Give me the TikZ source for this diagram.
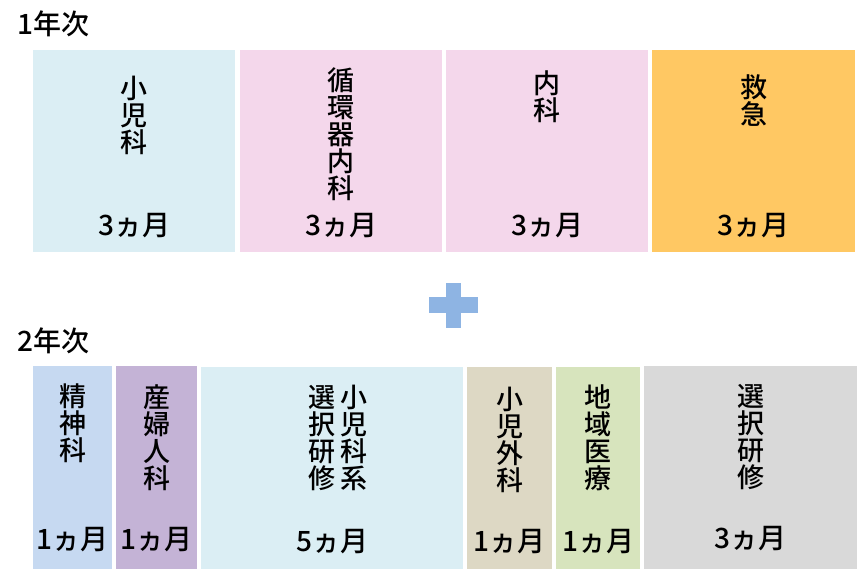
\documentclass[tikz,border=0pt]{standalone}
\usepackage{fontspec}
\setmainfont{Noto Sans CJK JP}[UprightFont={* Medium}]
\usetikzlibrary{positioning}
\definecolor{shonicol}{HTML}{DBEEF4}
\definecolor{pinkcol}{HTML}{F4D7EB}
\definecolor{kyukyucol}{HTML}{FFC863}
\definecolor{seishincol}{HTML}{C6D9F1}
\definecolor{sanfucol}{HTML}{C4B3D6}
\definecolor{gekacol}{HTML}{DDD8C4}
\definecolor{chiikicol}{HTML}{D7E4BD}
\definecolor{sentakucol}{HTML}{D9D9D9}
\definecolor{pluscol}{HTML}{8EB4E3}
\begin{document}
\begin{tikzpicture}%
	[x=1pt, y=-1pt,
	box/.style={rectangle, inner sep=0pt, anchor=north west},
	kamoku/.style={inner sep=0pt, align=center, font=\fontsize{27}{27}\selectfont},
	kikan/.style={inner sep=0pt, font=\fontsize{28}{28}\selectfont},
	nenji/.style={inner sep=0pt, anchor=north west, font=\fontsize{28}{28}\selectfont}]
%
\useasboundingbox (0,0) rectangle (861,574);
%%
%% 1st year
%%
\node[nenji] (nen1) at (17,11) {1年次};
\node[box, fill=shonicol, minimum width=202pt, minimum height=202pt] (s1) at (33,50) {};
\node[box, fill=pinkcol, minimum width=202pt, minimum height=202pt] (s2) at (240,50) {};
\node[box, fill=pinkcol, minimum width=202pt, minimum height=202pt] (s3) at (446,50) {};
\node[box, fill=kyukyucol, minimum width=203pt, minimum height=202pt] (s4) at (652,50) {};
%%
\node[kamoku, below=26pt of s1.north] (k1) {小\\児\\科};
\node[kamoku, below=18pt of s2.north] (k2) {循\\環\\器\\内\\科};
\node[kamoku, below=21pt of s3.north] (k3) {内\\科};
\node[kamoku, below=24pt of s4.north] (k4) {救\\急};
\foreach \i in {1,...,4}
	\node[kikan, above=14pt of s\i.south] (m\i) {3ヵ月};
%%
%% plus
%%
\fill[pluscol] (429,297) rectangle (478,313);
\fill[pluscol] (446,283) rectangle (461,328);
%%
%% 2nd year
%%
\node[nenji] (nen2) at (17,328) {2年次};
\node[box, fill=seishincol, minimum width=79pt, minimum height=203pt] (t1) at (33,366) {};
\node[box, fill=sanfucol, minimum width=81pt, minimum height=203pt] (t2) at (116,366) {};
\node[box, fill=shonicol, minimum width=262pt, minimum height=202pt] (t3) at (201,367) {};
\node[box, fill=gekacol, minimum width=85pt, minimum height=202pt] (t4) at (467,367) {};
\node[box, fill=chiikicol, minimum width=84pt, minimum height=202pt] (t5) at (556,367) {};
\node[box, fill=sentakucol, minimum width=213pt, minimum height=203pt] (t6) at (644,366) {};
%%
\node[kamoku, below=18pt of t1.north] (l1) {精\\神\\科};
\node[kamoku, below=18pt of t2.north] (l2) {産\\婦\\人\\科};
\node[kamoku, below=18pt of t3.north, xshift=22pt] (l3a) {小\\児\\科\\系};
\node[kamoku, left=5pt of l3a] (l3b) {選\\択\\研\\修};
\node[kamoku, below=20pt of t4.north] (l4) {小\\児\\外\\科};
\node[kamoku, below=18pt of t5.north] (l5) {地\\域\\医\\療};
\node[kamoku, below=18pt of t6.north] (l6) {選\\択\\研\\修};
%%
\node[kikan, above=17pt of t1.south] (n1) {1ヵ月};
\node[kikan, above=17pt of t2.south] (n2) {1ヵ月};
\node[kikan, above=15pt of t3.south] (n3) {5ヵ月};
\node[kikan, above=15pt of t4.south] (n4) {1ヵ月};
\node[kikan, above=15pt of t5.south] (n5) {1ヵ月};
\node[kikan, above=18pt of t6.south] (n6) {3ヵ月};
%%
\end{tikzpicture}
\end{document}
